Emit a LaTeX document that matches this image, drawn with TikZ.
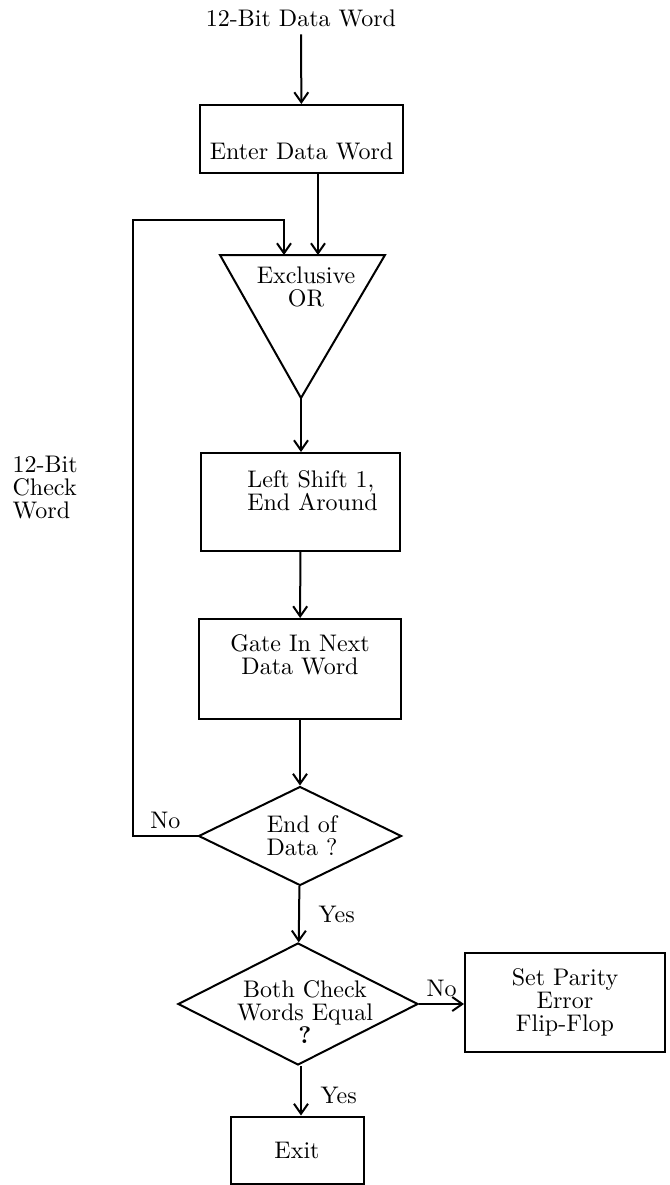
\documentclass[tikz,border=0pt]{standalone}
\usepackage{fontspec}
\setmainfont{lmroman10-regular}[Extension=.otf,BoldFont=lmroman10-bold]
\usetikzlibrary{shapes.geometric,arrows.meta}

\tikzset{
    block/.style={draw, rectangle, align=center},
    decision/.style={draw, diamond, inner sep=0pt},
}

\begin{document}
\begin{tikzpicture}[x=0.5pt, y=-0.5pt, line width=1pt, >={Straight Barb[length=5pt,width=7pt]},
    font=\fontsize{12}{11.5}\selectfont, align=center]
    \useasboundingbox (0,0) rectangle (670,1185);

    \node at (301,18)(title){12-Bit Data Word};
    \node[block, minimum width=101.5pt, minimum height=34pt] at (301.5,139)(enter){\strut\\Enter Data Word};

    % exclusive or triangle
    \coordinate (xorl) at (220,255);
    \coordinate (xorr) at (385,255);
    \coordinate (xorb) at (301,398);
    \draw (xorl) -- (xorr) -- (xorb) -- cycle;
    \node at (306,287)(xor){Exclusive\\OR};
    \coordinate (xin) at (318,255);
    \coordinate (back) at (284,255);
    \coordinate (turn) at (133,220);

    \node[block, align=left, minimum width=99.5pt, minimum height=49pt] at (300.5,502)(shift){\hspace*{12pt}Left Shift 1,\\\hspace*{12pt}End Around\\\mbox{}};
    \node[block, minimum width=101pt, minimum height=50pt] at (300,669)(gate){Gate In Next\\Data Word\\\strut};

    \node[decision, minimum width=101.5pt, minimum height=49.5pt] at (300,836)(eod){};
    \node at (302,836)(eodtext){End of\\Data ?};

    \node[decision, minimum width=120pt, minimum height=61pt] at (298,1004)(eq){};
    \node at (305,1012)(eqtext){Both Check\\Words Equal\\\textbf{?}};

    \node[block, minimum width=100pt, minimum height=49.5pt] at (565,1002.5)(parity){Set Parity\\Error\\Flip-Flop};
    \node[block, minimum width=66.5pt, minimum height=33.5pt] at (297,1150)(exit){Exit};

    \node[anchor=west, align=left] at (5,488)(check){12-Bit\\Check\\Word};

    \path[->]
        (title)edge(enter)
        (enter.south -| xin)edge(xin)
        (xorb)edge(xorb |- shift.north)
        (shift)edge(gate)
        (gate)edge(eod)
        (eod)edge node[right=6pt]{Yes}(eq)
        (eq.east)edge node[above]{No}(eq.east -| parity.west)
        (eq.south -| xorb)edge node[right=6pt, pos=0.6]{Yes}(xorb |- exit.north)
        ;
    \draw[->] (eod.west) -- node[above, pos=0.5]{No} (eod.west -| turn) -- (turn) -| (back);
\end{tikzpicture}
\end{document}
